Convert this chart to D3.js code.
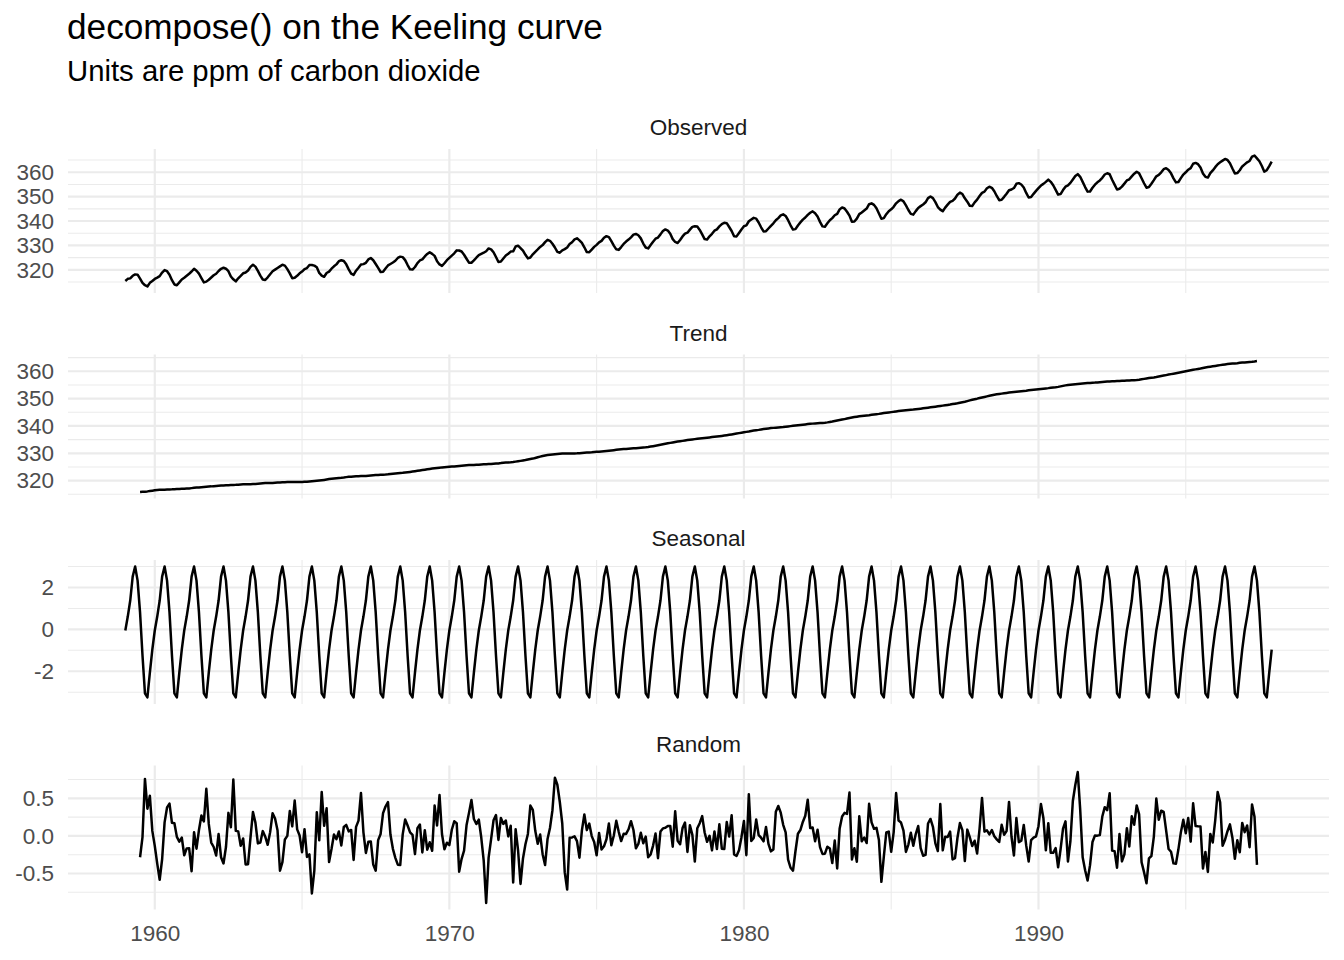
<!DOCTYPE html>
<html>
<head>
<meta charset="utf-8">
<script src="https://cdn.jsdelivr.net/npm/d3@7"></script>
<style>
  body { margin: 0; background: #fff; }
  text { font-family: "Liberation Sans", Arial, sans-serif; }
</style>
</head>
<body>
<div id="chart"></div>
<script>
// Mauna Loa CO2, monthly, Jan 1959 - Dec 1997 (ppm)
const startYear = 1959;
const frequency = 12;
const co2 = [
  315.42, 316.31, 316.50, 317.56, 318.13, 318.00, 316.39, 314.65, 313.68, 313.18, 314.66, 315.43,
  316.27, 316.81, 317.42, 318.87, 319.87, 319.43, 318.01, 315.74, 314.00, 313.68, 314.84, 316.03,
  316.73, 317.54, 318.38, 319.31, 320.42, 319.61, 318.42, 316.63, 314.83, 315.16, 315.94, 316.85,
  317.78, 318.40, 319.53, 320.42, 320.85, 320.45, 319.45, 317.25, 316.11, 315.27, 316.53, 317.53,
  318.58, 318.92, 319.70, 321.22, 322.08, 321.31, 319.58, 317.61, 316.05, 315.83, 316.91, 318.20,
  319.41, 320.07, 320.74, 321.40, 322.06, 321.73, 320.27, 318.54, 316.54, 316.71, 317.53, 318.55,
  319.27, 320.28, 320.73, 321.97, 322.00, 321.71, 321.05, 318.71, 317.66, 317.14, 318.70, 319.25,
  320.46, 321.43, 322.23, 323.54, 323.91, 323.59, 322.24, 320.20, 318.48, 317.94, 319.63, 320.87,
  322.17, 322.34, 322.88, 324.25, 324.83, 323.93, 322.38, 320.76, 319.10, 319.24, 320.56, 321.80,
  322.40, 322.99, 323.73, 324.86, 325.40, 325.20, 323.98, 321.95, 320.18, 320.09, 321.16, 322.74,
  323.83, 324.26, 325.47, 326.50, 327.21, 326.54, 325.72, 323.50, 322.22, 321.62, 322.69, 323.95,
  324.89, 325.82, 326.77, 327.97, 327.91, 327.50, 326.18, 324.53, 322.93, 322.90, 323.85, 324.96,
  326.01, 326.51, 327.01, 327.62, 328.76, 328.40, 327.20, 325.27, 323.20, 323.40, 324.63, 325.85,
  326.60, 327.47, 327.58, 329.56, 329.90, 328.92, 327.88, 326.16, 324.68, 325.04, 326.34, 327.39,
  328.37, 329.40, 330.14, 331.33, 332.31, 331.90, 330.70, 329.15, 327.35, 327.02, 327.99, 328.48,
  329.18, 330.55, 331.32, 332.48, 332.92, 332.08, 331.01, 329.23, 327.27, 327.21, 328.29, 329.41,
  330.23, 331.25, 331.87, 333.14, 333.80, 333.43, 331.73, 329.90, 328.40, 328.17, 329.32, 330.59,
  331.58, 332.39, 333.33, 334.41, 334.71, 334.17, 332.89, 330.77, 329.14, 328.78, 330.14, 331.52,
  332.75, 333.24, 334.53, 335.90, 336.57, 336.10, 334.76, 332.59, 331.42, 330.98, 332.24, 333.68,
  334.80, 335.22, 336.47, 337.59, 337.84, 337.72, 336.37, 334.51, 332.60, 332.38, 333.75, 334.78,
  336.05, 336.59, 337.79, 338.71, 339.30, 339.12, 337.56, 335.92, 333.75, 333.70, 335.12, 336.56,
  337.84, 338.19, 339.91, 340.60, 341.29, 341.00, 339.39, 337.43, 335.72, 335.84, 336.93, 338.04,
  339.06, 340.30, 341.21, 342.33, 342.74, 342.08, 340.32, 338.26, 336.52, 336.68, 338.19, 339.44,
  340.57, 341.44, 342.53, 343.39, 343.96, 343.18, 341.88, 339.65, 337.81, 337.69, 339.09, 340.32,
  341.20, 342.35, 342.93, 344.77, 345.58, 345.14, 343.81, 342.21, 339.69, 339.82, 340.98, 342.82,
  343.52, 344.33, 345.11, 346.88, 347.25, 346.62, 345.22, 343.11, 340.90, 341.18, 342.80, 344.04,
  344.79, 345.82, 347.25, 348.17, 348.74, 348.07, 346.38, 344.51, 342.92, 342.62, 344.06, 345.38,
  346.11, 346.78, 347.68, 349.37, 350.03, 349.37, 347.76, 345.73, 344.68, 343.99, 345.48, 346.72,
  347.84, 348.29, 349.23, 350.80, 351.66, 351.07, 349.33, 347.92, 346.27, 346.18, 347.64, 348.78,
  350.25, 351.54, 352.05, 353.41, 354.04, 353.62, 352.22, 350.27, 348.55, 348.72, 349.91, 351.18,
  352.60, 352.92, 353.53, 355.26, 355.52, 354.97, 353.75, 351.52, 349.64, 349.83, 351.14, 352.37,
  353.50, 354.55, 355.23, 356.04, 357.00, 356.07, 354.67, 352.76, 350.82, 351.04, 352.69, 354.07,
  354.59, 355.63, 357.03, 358.48, 359.22, 358.12, 356.06, 353.92, 352.05, 352.11, 353.64, 354.89,
  355.88, 356.63, 357.72, 359.07, 359.58, 359.17, 356.94, 354.92, 352.94, 353.23, 354.09, 355.33,
  356.63, 357.10, 358.32, 359.41, 360.23, 359.55, 357.53, 355.48, 353.67, 353.95, 355.30, 356.78,
  358.34, 358.89, 359.95, 361.25, 361.67, 360.94, 359.55, 357.49, 355.84, 356.00, 357.59, 359.05,
  359.98, 361.03, 361.66, 363.48, 363.82, 363.30, 361.94, 359.50, 358.11, 357.80, 359.61, 360.74,
  362.09, 363.29, 364.06, 364.76, 365.45, 365.01, 363.70, 361.54, 359.51, 359.65, 360.80, 362.38,
  363.23, 364.06, 364.61, 366.40, 366.84, 365.68, 364.52, 362.57, 360.24, 360.83, 362.49, 364.34
];

const panelNames = ["Observed", "Trend", "Seasonal", "Random"];
const yearTicks = [1960, 1970, 1980, 1990];
const observedTicks = [320, 330, 340, 350, 360];
const trendTicks = [320, 330, 340, 350, 360];
const seasonalTicks = [-2, 0, 2];
const randomTicks = [-0.5, 0.0, 0.5];

const titleText = "decompose() on the Keeling curve";
const subtitleText = "Units are ppm of carbon dioxide";

// classical additive decomposition, same steps as R's decompose()
const decompose = (x, f) => {
  const n = x.length;
  const w = d3.range(f + 1).map((j) => (j === 0 || j === f ? 0.5 : 1) / f);
  const half = f / 2;
  const trend = x.map((_, i) => {
    if (i < half || i >= n - half) return null;
    return d3.sum(w, (wj, j) => wj * x[i - half + j]);
  });
  const detrended = x.map((v, i) => (trend[i] === null ? null : v - trend[i]));
  let figure = d3.range(f).map((k) =>
    d3.mean(detrended.filter((v, i) => i % f === k && v !== null)));
  const figMean = d3.mean(figure);
  figure = figure.map((v) => v - figMean);
  const seasonal = x.map((_, i) => figure[i % f]);
  const random = x.map((v, i) => (trend[i] === null ? null : v - seasonal[i] - trend[i]));
  return { trend, seasonal, random };
};

const parts = decompose(co2, frequency);
const time = co2.map((_, i) => startYear + i / frequency);

const series = [co2, parts.trend, parts.seasonal, parts.random];
const tickSets = [observedTicks, trendTicks, seasonalTicks, randomTicks];
const tickFormats = [
  (v) => String(v),
  (v) => String(v),
  (v) => String(v),
  (v) => v.toFixed(1)
];

// Layout
const width = 1344, height = 960;
const plotLeft = 68, plotRight = 1329;
const panelTops = [149, 354.5, 560, 765.5];
const panelHeight = 144;
const gridColor = "#EBEBEB";

const svg = d3.select("#chart").append("svg")
  .attr("width", width)
  .attr("height", height);

svg.append("rect").attr("width", width).attr("height", height).attr("fill", "#fff");

svg.append("text")
  .attr("x", 67).attr("y", 39)
  .attr("font-size", 35.2)
  .attr("fill", "#000")
  .text(titleText);

svg.append("text")
  .attr("x", 67).attr("y", 81)
  .attr("font-size", 29.3)
  .attr("fill", "#000")
  .text(subtitleText);

const expand = (lo, hi) => {
  const pad = (hi - lo) * 0.05;
  return [lo - pad, hi + pad];
};

const xDomain = expand(d3.min(time), d3.max(time));
const x = d3.scaleLinear().domain(xDomain).range([plotLeft, plotRight]);

const minorBreaks = (ticks, domain) => {
  const step = ticks[1] - ticks[0];
  const all = [ticks[0] - step].concat(ticks, [ticks[ticks.length - 1] + step]);
  const out = [];
  for (let i = 0; i < all.length - 1; i++) out.push((all[i] + all[i + 1]) / 2);
  return out.filter((v) => v >= domain[0] && v <= domain[1]);
};

const xMinor = minorBreaks(yearTicks, xDomain);

panelNames.forEach((name, p) => {
  const values = series[p];
  const defined = values.filter((v) => v !== null);
  const yDomain = expand(d3.min(defined), d3.max(defined));
  const top = panelTops[p];
  const y = d3.scaleLinear().domain(yDomain).range([top + panelHeight, top]);
  const g = svg.append("g");

  // strip label
  g.append("text")
    .attr("x", (plotLeft + plotRight) / 2)
    .attr("y", top - 14)
    .attr("text-anchor", "middle")
    .attr("font-size", 22.5)
    .attr("fill", "#1A1A1A")
    .text(name);

  // minor grid
  const yMinor = minorBreaks(tickSets[p], yDomain);
  g.selectAll(".ymin").data(yMinor).join("line")
    .attr("x1", plotLeft).attr("x2", plotRight)
    .attr("y1", (d) => y(d)).attr("y2", (d) => y(d))
    .attr("stroke", gridColor).attr("stroke-width", 1.1);
  g.selectAll(".xmin").data(xMinor).join("line")
    .attr("x1", (d) => x(d)).attr("x2", (d) => x(d))
    .attr("y1", top).attr("y2", top + panelHeight)
    .attr("stroke", gridColor).attr("stroke-width", 1.1);

  // major grid
  g.selectAll(".ymaj").data(tickSets[p]).join("line")
    .attr("x1", plotLeft).attr("x2", plotRight)
    .attr("y1", (d) => y(d)).attr("y2", (d) => y(d))
    .attr("stroke", gridColor).attr("stroke-width", 2.2);
  g.selectAll(".xmaj").data(yearTicks).join("line")
    .attr("x1", (d) => x(d)).attr("x2", (d) => x(d))
    .attr("y1", top).attr("y2", top + panelHeight)
    .attr("stroke", gridColor).attr("stroke-width", 2.2);

  // y axis labels
  const yAxis = d3.axisLeft(y)
    .tickValues(tickSets[p])
    .tickFormat(tickFormats[p])
    .tickSize(0)
    .tickPadding(0);
  const ya = g.append("g")
    .attr("transform", `translate(${plotLeft - 14},0)`)
    .call(yAxis);
  ya.select(".domain").remove();
  ya.selectAll("text")
    .attr("font-family", "Liberation Sans, Arial, sans-serif")
    .attr("font-size", 22.5)
    .attr("fill", "#4D4D4D");

  // series line
  const line = d3.line()
    .defined((d, i) => values[i] !== null)
    .x((d, i) => x(time[i]))
    .y((d) => y(d));
  g.append("path")
    .datum(values)
    .attr("d", line)
    .attr("fill", "none")
    .attr("stroke", "#000")
    .attr("stroke-width", 2.5)
    .attr("stroke-linejoin", "round");
});

// x axis labels under the last panel
const lastBottom = panelTops[3] + panelHeight;
const xAxis = d3.axisBottom(x)
  .tickValues(yearTicks)
  .tickFormat((d) => String(d))
  .tickSize(0)
  .tickPadding(0);
const xa = svg.append("g")
  .attr("transform", `translate(0,${lastBottom + 16})`)
  .call(xAxis);
xa.select(".domain").remove();
xa.selectAll("text")
  .attr("font-family", "Liberation Sans, Arial, sans-serif")
  .attr("font-size", 22.5)
  .attr("fill", "#4D4D4D");
</script>
</body>
</html>
